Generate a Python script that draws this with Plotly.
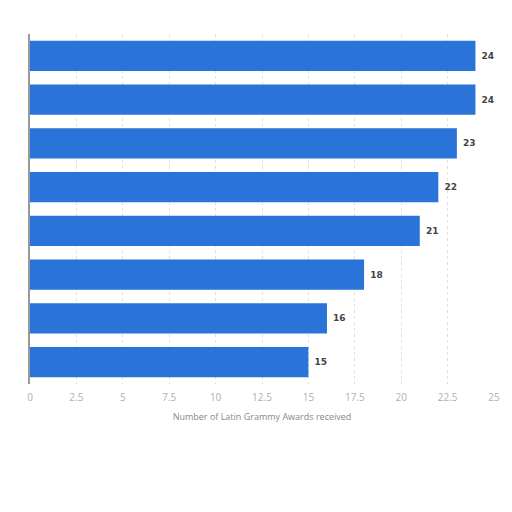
import plotly.graph_objects as go

# category names are cropped out of the reference, so they stay hidden
artists = ["Artist 1", "Artist 2", "Artist 3", "Artist 4",
           "Artist 5", "Artist 6", "Artist 7", "Artist 8"]
awards = [24, 24, 23, 22, 21, 18, 16, 15]
tick_vals = [0, 2.5, 5, 7.5, 10, 12.5, 15, 17.5, 20, 22.5, 25]
tick_text = ["0", "2.5", "5", "7.5", "10", "12.5", "15", "17.5", "20", "22.5", "25"]

BAR_COLOR = "#2a73d9"

fig = go.Figure(go.Bar(
    x=awards, y=artists, orientation="h",
    marker=dict(color=BAR_COLOR, line=dict(width=0)),
    text=[f"<b> {v}</b>" for v in awards], textposition="outside",
    textfont=dict(family="DejaVu Sans", size=9, color="#444444"),
    cliponaxis=False,
))

# the page body adds ~8px, so margins are shifted by that amount
fig.update_layout(
    width=512, height=512,
    margin=dict(l=22, r=26, t=26, b=136),
    paper_bgcolor="white", plot_bgcolor="white",
    bargap=0.31, showlegend=False,
    font=dict(family="Open Sans"),
    xaxis=dict(range=[0, 25], tickvals=tick_vals, ticktext=tick_text,
               showgrid=True, gridcolor="#e0e0e0", griddash="dot", gridwidth=1,
               zeroline=False, showline=False, ticks="", ticklabelstandoff=6,
               tickfont=dict(size=10, color="#b0b0b0"),
               title=dict(text="Number of Latin Grammy Awards received",
                          font=dict(size=9, color="#888888"), standoff=10)),
    yaxis=dict(categoryorder="array", categoryarray=artists[::-1],
               showticklabels=False, ticks="", showgrid=False,
               showline=True, linecolor="#999999", linewidth=2),
)

fig.write_html("out.html")
